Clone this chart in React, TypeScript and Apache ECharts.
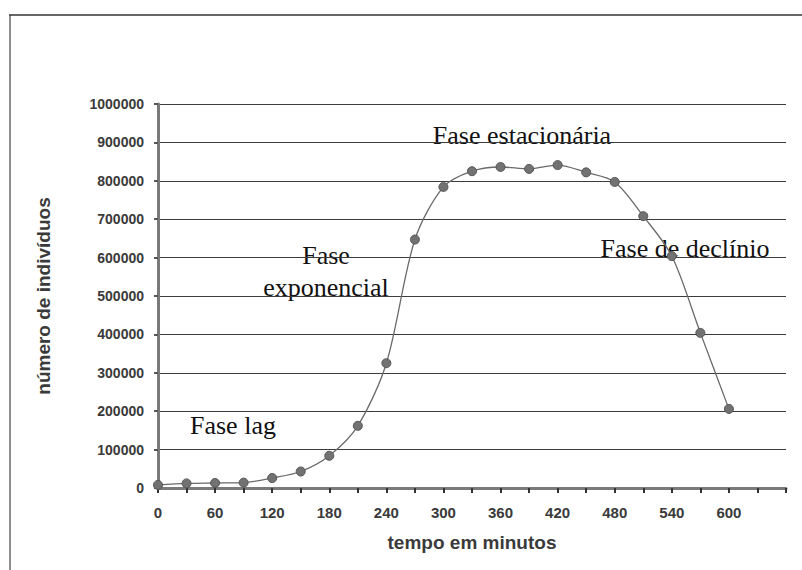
import React, { useEffect, useRef } from "react";
import * as echarts from "echarts";

const times = [0, 30, 60, 90, 120, 150, 180, 210, 240, 270, 300, 330, 360, 390, 420, 450, 480, 510, 540, 570, 600];
const individuals = [8000, 12000, 13000, 14000, 26000, 43000, 84000, 162000, 325000, 647000, 784000, 825000, 836000, 831000, 841000, 822000, 797000, 708000, 604000, 404000, 206000];
const xLabelValues = [0, 60, 120, 180, 240, 300, 360, 420, 480, 540, 600];
const phaseLabels = ["Fase lag", "Fase\nexponencial", "Fase estacionária", "Fase de declínio"];

export default function App() {
  const ref = useRef<HTMLDivElement>(null);
  useEffect(() => {
    if (!ref.current) return;
    const chart = echarts.init(ref.current, null, { renderer: "svg" });
    const serif = "'Liberation Serif', 'DejaVu Serif', serif";
    const sans = "'Liberation Sans', Arial, sans-serif";
    chart.setOption({
      animation: false,
      backgroundColor: "#ffffff",
      grid: { left: 158, right: 16, top: 104, bottom: 82 },
      xAxis: {
        type: "value",
        min: 0,
        max: 660,
        interval: 30,
        name: "tempo em minutos",
        nameLocation: "middle",
        nameGap: 45,
        nameTextStyle: { fontFamily: sans, fontWeight: "bold", fontSize: 19, color: "#3a3a3a" },
        axisLine: { show: true, lineStyle: { color: "#7a7a7a", width: 3 } },
        axisTick: { show: true, length: 5, lineStyle: { color: "#333", width: 2 } },
        axisLabel: {
          margin: 17,
          fontFamily: sans,
          fontWeight: "bold",
          fontSize: 15,
          color: "#3a3a3a",
          formatter: (v: number) => (xLabelValues.indexOf(v) >= 0 ? String(v) : ""),
        },
        splitLine: { show: false },
      },
      yAxis: {
        type: "value",
        min: 0,
        max: 1000000,
        interval: 100000,
        name: "número de indivíduos",
        nameLocation: "middle",
        nameGap: 105,
        nameTextStyle: { fontFamily: sans, fontWeight: "bold", fontSize: 19, color: "#3a3a3a" },
        axisLine: { show: true, lineStyle: { color: "#7a7a7a", width: 3 } },
        axisTick: { show: true, length: 4, lineStyle: { color: "#555", width: 2 } },
        axisLabel: {
          margin: 14,
          fontFamily: sans,
          fontWeight: "bold",
          fontSize: 14,
          color: "#3a3a3a",
          formatter: (v: number) => String(v),
        },
        splitLine: { show: true, lineStyle: { color: "#3c3c3c", width: 1.2 } },
      },
      series: [
        {
          type: "line",
          data: times.map((t, i) => [t, individuals[i]]),
          smooth: 0.3,
          symbol: "circle",
          symbolSize: 9,
          itemStyle: { color: "#727272", borderColor: "#555", borderWidth: 1 },
          lineStyle: { color: "#6a6a6a", width: 1.3 },
          z: 3,
        },
      ],
      graphic: [
        { type: "line", shape: { x1: 9, y1: 15, x2: 802, y2: 15 }, style: { stroke: "#333", lineWidth: 1.5 } },
        { type: "line", shape: { x1: 10, y1: 15, x2: 10, y2: 570 }, style: { stroke: "#444", lineWidth: 1.2 } },
        { type: "text", x: 190, y: 425, style: { text: phaseLabels[0], font: `26px ${serif}`, fill: "#111", textVerticalAlign: "middle" } },
        { type: "text", x: 326, y: 271, style: { text: phaseLabels[1], font: `26px ${serif}`, fill: "#111", textAlign: "center", textVerticalAlign: "middle", lineHeight: 32 } },
        { type: "text", x: 522, y: 135, style: { text: phaseLabels[2], font: `26px ${serif}`, fill: "#111", textAlign: "center", textVerticalAlign: "middle" } },
        { type: "text", x: 685, y: 248, style: { text: phaseLabels[3], font: `26px ${serif}`, fill: "#111", textAlign: "center", textVerticalAlign: "middle" } },
      ],
    });
    return () => chart.dispose();
  }, []);
  return <div ref={ref} style={{ width: 802, height: 570, position: "absolute", left: 0, top: 0 }} />;
}
